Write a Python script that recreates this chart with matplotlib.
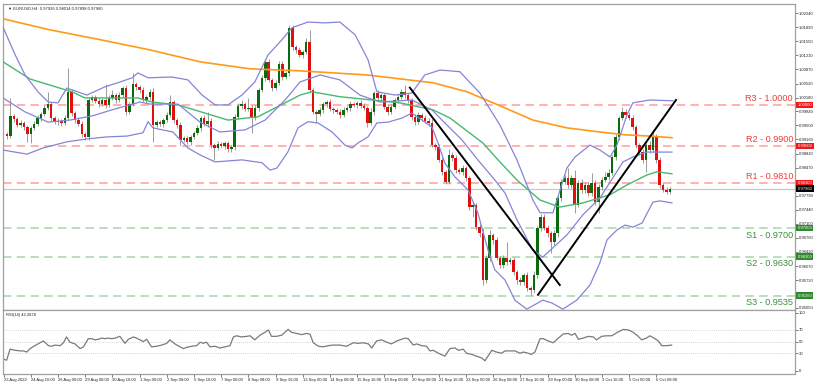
import matplotlib
matplotlib.use('Agg')
import matplotlib.pyplot as plt
import matplotlib.transforms as mtransforms

plt.rcParams['font.family'] = ['Liberation Sans', 'DejaVu Sans']

# EURUSD H4 candles, 23 Aug - 7 Oct 2022
first_open = 0.9929
closes = [
    0.9924, 0.9973, 0.9966, 0.9951, 0.9956, 0.9946, 0.9929, 0.9944, 0.9954, 0.9968,
    0.9978, 0.9993, 1.0002, 0.9968, 0.9958, 0.9961, 0.9956, 0.9968, 1.0032, 0.9980,
    0.9963, 0.9954, 0.9929, 0.9922, 1.0012, 1.0019, 1.0010, 1.0002, 1.0012, 1.0000,
    1.0017, 1.0024, 1.0012, 1.0024, 1.0041, 0.9983, 1.0002, 1.0051, 1.0044, 1.0036,
    1.0012, 1.0019, 1.0032, 0.9951, 0.9958, 0.9954, 0.9963, 0.9976, 1.0007, 0.9963,
    0.9951, 0.9915, 0.9919, 0.9910, 0.9922, 0.9932, 0.9944, 0.9968, 0.9954, 0.9961,
    0.9902, 0.9895, 0.9905, 0.9900, 0.9907, 0.9892, 0.9897, 0.9971, 0.9998, 1.0002,
    0.9990, 0.9993, 0.9968, 0.9993, 1.0036, 1.0066, 1.0105, 1.0061, 1.0041, 1.0054,
    1.0100, 1.0068, 1.0078, 1.0188, 1.0141, 1.0134, 1.0122, 1.0129, 1.0154, 1.0036,
    0.9983, 0.9978, 0.9988, 1.0002, 1.0007, 0.9990, 0.9988, 0.9983, 0.9976, 0.9988,
    0.9993, 1.0002, 1.0000, 1.0005, 0.9998, 0.9993, 0.9956, 0.9983, 1.0029, 1.0017,
    1.0024, 0.9995, 0.9983, 0.9995, 1.0012, 1.0019, 1.0032, 1.0024, 1.0012, 0.9971,
    0.9958, 0.9976, 0.9968, 0.9961, 0.9956, 0.9902, 0.9897, 0.9866, 0.9836, 0.9812,
    0.9878, 0.9871, 0.9841, 0.9836, 0.9846, 0.9822, 0.9751, 0.9756, 0.9702, 0.9687,
    0.9573, 0.9626, 0.9682, 0.9670, 0.9626, 0.9609, 0.9626, 0.9617, 0.9622, 0.9592,
    0.9573, 0.9568, 0.9585, 0.9553, 0.9548, 0.9585, 0.9700, 0.9727, 0.9700, 0.9687,
    0.9665, 0.9687, 0.9773, 0.9812, 0.9822, 0.9805, 0.9822, 0.9756, 0.9810, 0.9793,
    0.9805, 0.9785, 0.9810, 0.9763, 0.9800, 0.9817, 0.9824, 0.9834, 0.9873, 0.9922,
    0.9968, 0.9983, 0.9976, 0.9968, 0.9946, 0.9902, 0.9885, 0.9866, 0.9902, 0.9890,
    0.9922, 0.9866, 0.9805, 0.9793, 0.9788, 0.9796,
]
# wick lengths in pips above / below the body
upper_wick = [
    4, 44, 6, 5, 7, 4, 6, 5, 6, 8, 5, 6, 30, 5, 4, 6, 5, 7, 58, 6,
    5, 4, 6, 5, 8, 6, 5, 7, 5, 40, 6, 12, 5, 7, 6, 8, 5, 27, 6, 5,
    7, 5, 6, 8, 5, 6, 4, 7, 17, 6, 5, 7, 5, 6, 4, 5, 7, 6, 8, 22,
    6, 5, 7, 4, 6, 5, 6, 8, 6, 10, 5, 25, 6, 7, 5, 8, 6, 7, 5, 6,
    8, 6, 5, 7, 6, 5, 7, 6, 8, 29, 6, 5, 7, 6, 5, 7, 6, 5, 8, 6,
    5, 7, 6, 5, 8, 6, 5, 10, 5, 7, 6, 5, 7, 6, 5, 8, 6, 17, 6, 5,
    7, 6, 5, 8, 6, 10, 5, 7, 6, 5, 15, 6, 8, 5, 7, 6, 5, 8, 6, 7,
    12, 8, 12, 6, 7, 5, 8, 40, 6, 7, 5, 8, 6, 7, 5, 10, 6, 8, 6, 7,
    5, 8, 6, 7, 6, 25, 8, 19, 6, 10, 7, 8, 24, 6, 7, 8, 12, 10, 6, 8,
    6, 12, 6, 7, 8, 6, 5, 7, 6, 9, 12, 6, 8, 5, 6, 5,
]
lower_wick = [
    6, 5, 7, 5, 6, 8, 19, 22, 5, 6, 7, 5, 6, 8, 5, 6, 7, 5, 6, 8,
    6, 5, 7, 8, 7, 5, 6, 8, 5, 7, 6, 5, 8, 6, 5, 7, 6, 5, 8, 6,
    5, 7, 6, 41, 5, 6, 7, 5, 6, 8, 7, 13, 6, 5, 7, 6, 5, 8, 6, 7,
    8, 29, 6, 5, 7, 6, 8, 6, 5, 7, 6, 5, 36, 6, 7, 5, 8, 6, 7, 5,
    6, 8, 5, 7, 6, 8, 5, 7, 6, 8, 6, 22, 5, 7, 6, 5, 8, 6, 7, 5,
    6, 8, 5, 7, 6, 5, 10, 6, 8, 5, 7, 6, 8, 5, 6, 7, 5, 6, 8, 7,
    6, 5, 8, 6, 7, 5, 8, 6, 7, 5, 6, 8, 7, 5, 6, 8, 7, 24, 6, 8,
    12, 7, 6, 8, 5, 7, 6, 8, 6, 7, 10, 6, 8, 7, 12, 6, 8, 7, 6, 8,
    26, 6, 8, 7, 6, 8, 7, 19, 6, 8, 7, 6, 8, 6, 26, 7, 6, 8, 6, 7,
    8, 6, 7, 6, 8, 7, 6, 8, 30, 7, 6, 8, 7, 5, 6, 4,
]

# indicator lines, sampled (candle index, price)
ma200_x = [-1.2, 12.6, 27.4, 42.1, 56.8, 71.5, 86.2, 105.9, 125.3, 135.3, 145, 154.7, 164.7, 174.4, 181.8, 189.1, 195.6]
ma200_y = [1.0210, 1.0183, 1.0159, 1.0134, 1.0105, 1.0088, 1.0083, 1.0073, 1.0054, 1.0032, 0.9998, 0.9963, 0.9944, 0.9934, 0.9927, 0.9924, 0.9920]

ma50_x = [-1.2, 6.8, 19.1, 22.9, 38.5, 42.6, 50.3, 65, 73.8, 81.8, 86.2, 89.7, 97.9, 115.6, 125.3, 130.3, 140, 145,
          150, 156.8, 162.6, 169.4, 177.4, 182.4, 188.2, 191.2, 195.6]
ma50_y = [1.0105, 1.0063, 1.0032, 1.0017, 1.0017, 1.0007, 1.0000, 0.9963, 0.9971, 1.0005, 1.0024, 1.0032, 1.0020, 1.0005, 0.9988, 0.9968, 0.9907, 0.9861,
          0.9817, 0.9768, 0.9751, 0.9761, 0.9781, 0.9805, 0.9829, 0.9837, 0.9832]

bb_up_x = [-1.2, 2.4, 5.3, 9.1, 12.1, 15, 17.6, 23.5, 28.8, 32.6, 36.8, 38.5, 41.5, 48.5, 53.2, 57.4, 61.2, 65, 69.1, 72.9,
           76.8, 80.9, 83.8, 88.5, 93.5, 97.9, 102.4, 106.2, 108.8, 114.1, 119.1, 122.9, 127.4, 133.2, 139.1, 145, 150,
           154.7, 156.8, 160.6, 164.7, 167.1, 171.5, 174.4, 177.4, 179.4, 182.4, 184.1, 189.1, 195.9]
bb_up_y = [1.0190, 1.0122, 1.0073, 1.0032, 1.0007, 1.0005, 1.0041, 1.0024, 1.0044, 1.0054, 1.0066, 1.0078, 1.0066, 1.0068, 1.0061, 1.0024, 1.0000, 1.0000, 1.0024, 1.0056,
           1.0122, 1.0159, 1.0188, 1.0202, 1.0200, 1.0202, 1.0171, 1.0110, 1.0032, 1.0024, 1.0029, 1.0073, 1.0085, 1.0081, 1.0029, 0.9951, 0.9866,
           0.9768, 0.9737, 0.9737, 0.9846, 0.9873, 0.9902, 0.9890, 0.9873, 0.9902, 0.9976, 1.0005, 1.0012, 1.0010]

bb_mid_x = [-1.2, 5.3, 12.1, 18.5, 25, 30.9, 39.1, 42.1, 50.3, 56.8, 62.6, 70, 75.9, 81.8, 86.2, 92.1, 97.9, 103.8, 109.7,
            119.1, 125, 128.8, 133.8, 138.5, 143.5, 146.5, 150, 154.7, 157.6, 164.7, 169.4, 174.4, 178.2, 181.2, 184.1, 188.2, 195.6]
bb_mid_y = [1.0017, 0.9983, 0.9958, 0.9963, 0.9973, 0.9988, 1.0007, 1.0002, 1.0002, 0.9958, 0.9934, 0.9939, 0.9963, 1.0012, 1.0056, 1.0073, 1.0061, 1.0024, 1.0007,
            1.0012, 0.9988, 0.9956, 0.9915, 0.9866, 0.9817, 0.9785, 0.9720, 0.9646, 0.9629, 0.9683, 0.9732, 0.9773, 0.9822, 0.9861, 0.9873, 0.9885, 0.9885]

bb_lo_x = [-1.2, 5.9, 10.6, 17.6, 23.5, 29.4, 35.3, 40, 41.5, 42.9, 48.8, 53.2, 56.8, 61.2, 69.1, 75, 77.4, 79.4, 82.6, 85.6,
           88.5, 91.5, 95.6, 97.9, 99.4, 101.5, 103.2, 106.2, 108.8, 112.1, 116.2, 119.1, 125, 126.8, 128.8, 131.8, 135.6,
           138.5, 141.5, 143.5, 146.5, 149.4, 152.9, 157.6, 160.3, 163.5, 167.6, 171.5, 174.4, 176.5, 179.4, 181.8, 184.1,
           186.8, 190, 192.1, 195.6]
bb_lo_y = [0.9890, 0.9880, 0.9895, 0.9910, 0.9917, 0.9922, 0.9924, 0.9932, 0.9959, 0.9944, 0.9934, 0.9895, 0.9878, 0.9861, 0.9866, 0.9859, 0.9841, 0.9846, 0.9885, 0.9944,
           0.9959, 0.9956, 0.9934, 0.9915, 0.9902, 0.9895, 0.9907, 0.9922, 0.9956, 0.9958, 0.9968, 0.9980, 0.9946, 0.9907, 0.9858, 0.9824, 0.9793,
           0.9737, 0.9646, 0.9598, 0.9573, 0.9524, 0.9502, 0.9524, 0.9517, 0.9502, 0.9524, 0.9561, 0.9615, 0.9671, 0.9695, 0.9707, 0.9702,
           0.9712, 0.9763, 0.9766, 0.9761]

# RSI(14), sampled
rsi_x = [-1.1, -0.1, 0.9, 2.4, 3.8, 4.8, 5.8, 6.8, 8.2, 9.7, 10.7, 12.2, 13.1, 14.1, 15.6, 16.6, 17.5, 18.5, 20, 21.5,
         22.5, 23.9, 24.9, 25.9, 26.9, 27.8, 28.8, 29.8, 30.8, 31.8, 33.2, 34.7, 35.7, 37.2, 38.1, 39.1, 40.1, 41.1, 42.5, 44,
         45.5, 47, 47.9, 49.4, 50.9, 51.9, 52.8, 54.3, 55.8, 56.8, 57.7, 58.7, 59.7, 61.2, 62.6, 64.1, 65.6, 66.6, 67.5, 69,
         70.5, 71.5, 72.9, 74.4, 75.9, 76.9, 77.8, 79.3, 80.8, 82.7, 83.7, 85.2, 86.7, 88.1, 89.1, 90.1, 91.6, 93, 94.5, 96,
         97.9, 99.9, 101.9, 103.3, 104.8, 106.3, 107.3, 108.7, 110.2, 111.7, 113.1, 114.6, 116.1, 117.1, 118, 119.5, 120.5, 122, 123.4, 124.4,
         125.4, 126.9, 128.8, 130.3, 131.8, 132.8, 134.2, 135.2, 136.7, 138.1, 139.6, 140.6, 142.6, 144, 145.5, 146.5, 148, 149.4, 150.9, 151.9,
         153.3, 154.3, 155.3, 156.8, 157.8, 159.2, 160.7, 162.2, 163.6, 165.1, 166.1, 167.1, 168.1, 169.5, 171, 172.5, 173.4, 174.9, 176.4, 177.9,
         179.3, 181.3, 182.8, 184.2, 185.7, 186.7, 188.1, 189.1, 190.6, 191.6, 192.6, 194, 195.5]
rsi_val = [20, 18, 37, 35, 34, 34, 32, 38, 43, 48, 51, 43, 42, 44, 43, 48, 58, 49, 46, 38,
           41, 55, 55, 53, 54, 56, 55, 56, 55, 56, 59, 47, 54, 58, 56, 53, 50, 54, 41, 42,
           44, 47, 53, 46, 41, 38, 40, 42, 43, 49, 47, 49, 41, 42, 39, 41, 43, 58, 60, 58,
           59, 60, 53, 61, 66, 70, 59, 59, 61, 71, 66, 64, 62, 64, 63, 48, 42, 41, 43, 44,
           44, 42, 48, 47, 48, 46, 39, 51, 53, 49, 46, 51, 54, 56, 55, 44, 46, 43, 42, 34,
           35, 30, 25, 38, 39, 35, 37, 30, 28, 25, 22, 17, 35, 32, 30, 34, 34, 34, 30, 32,
           30, 28, 32, 55, 55, 51, 48, 56, 63, 64, 61, 64, 54, 56, 59, 58, 53, 59, 60, 60,
           65, 71, 70, 66, 59, 53, 56, 60, 55, 51, 43, 43, 44]

r_levels = [1.0000, 0.9900, 0.9810]
r_names = ['R3', 'R2', 'R1']
s_levels = [0.9700, 0.9630, 0.9535]
s_names = ['S1', 'S2', 'S3']
last_price = 0.9796

# hand-drawn trend lines (start, end) as (candle index, price)
trend_lines = [((118.5, 1.0042), (162.6, 0.9561)),
               ((156.2, 0.9537), (196.8, 1.0012))]

# scale labels; the ones sitting under the level boxes are hidden in the picture
price_ticks = [1.0224, 1.0189, 1.0155, 1.0121, 1.0087, 1.0052, 1.0018, 0.9984, 0.9950, 0.9916, 0.9881,
               0.9847, 0.9779, 0.9744, 0.9710, 0.9676, 0.9642, 0.9607, 0.9573, 0.9505]

date_pos = [-1] + [7 + 8 * k for k in range(24)]
date_labels = ['23 Aug 2022', '24 Aug 16:00', '26 Aug 00:00', '29 Aug 08:00', '30 Aug 16:00', '1 Sep 00:00',
               '2 Sep 08:00', '5 Sep 16:00', '7 Sep 00:00', '8 Sep 08:00', '9 Sep 16:00', '13 Sep 00:00',
               '14 Sep 08:00', '15 Sep 16:00', '19 Sep 00:00', '20 Sep 08:00', '21 Sep 16:00', '23 Sep 00:00',
               '26 Sep 08:00', '27 Sep 16:00', '29 Sep 00:00', '30 Sep 08:00', '3 Oct 16:00', '5 Oct 00:00',
               '6 Oct 08:00']

opens = [first_open] + closes[:-1]
highs = [max(o, c) + w * 0.0001 for o, c, w in zip(opens, closes, upper_wick)]
lows = [min(o, c) - w * 0.0001 for o, c, w in zip(opens, closes, lower_wick)]
idx = list(range(len(closes)))

W, H = 818, 386
fig = plt.figure(figsize=(W / 100, H / 100), dpi=100)


def rect(l, t, r, b):
    return [l / W, 1 - b / H, (r - l) / W, (b - t) / H]


ax = fig.add_axes(rect(3, 4, 795, 310))
axr = fig.add_axes(rect(3, 310, 795, 374), sharex=ax)

# levels
for v in r_levels:
    ax.axhline(v, color='#ff9c9c', lw=1.1, dashes=(5.5, 3.5), zorder=1)
for v in s_levels:
    ax.axhline(v, color='#a8d5a8', lw=1.1, dashes=(5.5, 3.5), zorder=1)
ax.axhline(last_price, color='#c8c8c8', lw=0.9, zorder=1)

# candles
ax.vlines(idx, lows, highs, color='#8a8a8a', lw=0.6, zorder=2)
body_col = ['#0b6a0b' if c >= o else '#e01010' for o, c in zip(opens, closes)]
body_h = [max(abs(c - o), 0.00006) for o, c in zip(opens, closes)]
body_b = [min(o, c) for o, c in zip(opens, closes)]
ax.bar(idx, body_h, bottom=body_b, width=0.75, color=body_col, linewidth=0, zorder=3)

# indicators
ax.plot(ma200_x, ma200_y, color='#ff9a1a', lw=1.2, zorder=4)
ax.plot(ma50_x, ma50_y, color='#45b96e', lw=1.0, zorder=4)
for xs, ys in [(bb_up_x, bb_up_y), (bb_mid_x, bb_mid_y), (bb_lo_x, bb_lo_y)]:
    ax.plot(xs, ys, color='#8585d6', lw=0.9, zorder=4)
for (x0, y0), (x1, y1) in trend_lines:
    ax.plot([x0, x1], [y0, y1], color='black', lw=1.4, zorder=5)

ax.set_xlim(-1.18, 231.8)
ax.set_ylim(0.9500, 1.0246)

# axis look
for a in (ax, axr):
    for s in a.spines.values():
        s.set_color('#a0a0a0')
        s.set_linewidth(0.9)
    a.yaxis.tick_right()
    a.tick_params(axis='y', labelsize=3, length=2, width=0.5, pad=1, colors='#444444', labelcolor='#222222')
ax.tick_params(axis='x', bottom=False, labelbottom=False)
ax.set_yticks(price_ticks)
ax.set_yticklabels([f'{v:.5f}' for v in price_ticks])

trans = mtransforms.blended_transform_factory(ax.transAxes, ax.transData)
for v, n in zip(r_levels, r_names):
    ax.annotate(f'{n} - {v:.4f}', xy=(0.9975, v), xycoords=trans, xytext=(0, 1.5), textcoords='offset points',
                ha='right', va='bottom', fontsize=6.6, color='#f23c3c', zorder=6)
    ax.text(1.003, v, f'{v:.5f}', transform=trans, fontsize=3, color='white', va='center', ha='left',
            bbox=dict(boxstyle='square,pad=0.3', fc='#f01818', ec='none'), clip_on=False, zorder=7)
for v, n in zip(s_levels, s_names):
    ax.annotate(f'{n} - {v:.4f}', xy=(0.9975, v), xycoords=trans, xytext=(0, -2), textcoords='offset points',
                ha='right', va='top', fontsize=6.6, color='#3c8f3c', zorder=6)
    ax.text(1.003, v, f'{v:.5f}', transform=trans, fontsize=3, color='white', va='center', ha='left',
            bbox=dict(boxstyle='square,pad=0.3', fc='#2f8a2f', ec='none'), clip_on=False, zorder=7)
ax.text(1.003, last_price, f'{last_price:.5f}', transform=trans, fontsize=3, color='white', va='center', ha='left',
        bbox=dict(boxstyle='square,pad=0.3', fc='black', ec='none'), clip_on=False, zorder=7)

ax.text(0.006, 0.993, '\u25bc EURUSD,H4  0.97926 0.98014 0.97898 0.97960', transform=ax.transAxes,
        fontsize=3, va='top', ha='left', color='#222222')

# RSI panel
for v in (30, 50, 70):
    axr.axhline(v, color='#c8c8c8', lw=0.6, ls=(0, (1, 1.5)))
axr.plot(rsi_x, rsi_val, color='#7a7a7a', lw=0.9)
axr.set_ylim(-5.7, 104.3)
axr.set_yticks([0, 30, 50, 70, 100])
axr.set_yticklabels(['0', '30', '50', '70', '100'])
axr.text(0.004, 0.95, 'RSI(14) 42.2878', transform=axr.transAxes, fontsize=3, va='top', ha='left', color='#222222')
axr.set_xticks(date_pos)
axr.set_xticklabels(date_labels, ha='left')
axr.tick_params(axis='x', labelsize=3, length=2, width=0.5, pad=1, colors='#444444', labelcolor='#222222')

fig.savefig('out.png', dpi=100)
